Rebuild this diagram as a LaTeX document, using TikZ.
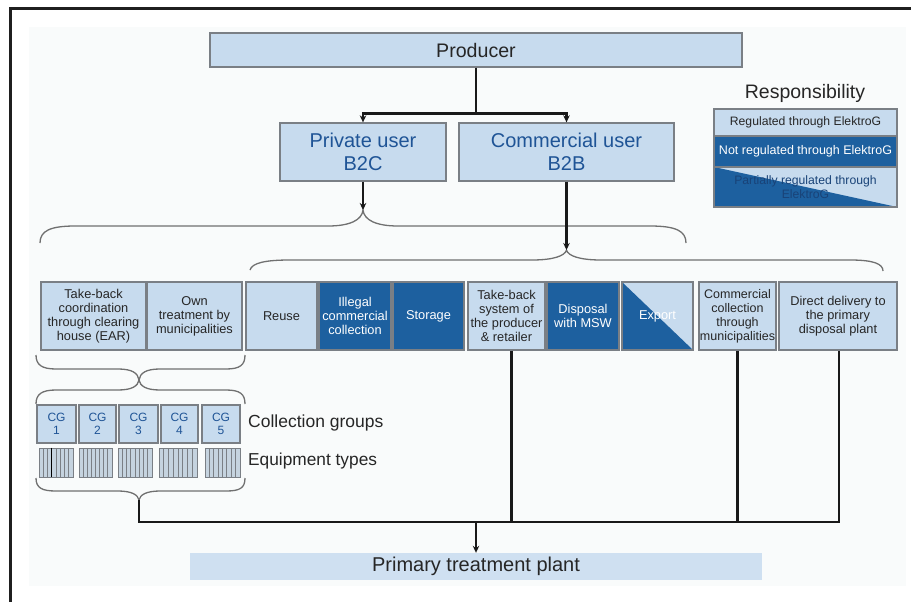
\documentclass[tikz,border=0pt]{standalone}
\usepackage{fontspec}
\setmainfont{Liberation Sans}
\usetikzlibrary{arrows.meta,calc}
\definecolor{lightb}{HTML}{C7DBEE}
\definecolor{darkb}{HTML}{1D609F}
\definecolor{bord}{HTML}{7A7F85}
\definecolor{txtblue}{HTML}{1F5496}
\definecolor{bgp}{HTML}{F9FBFB}
\definecolor{eqfill}{HTML}{C5D3DF}
\definecolor{bracec}{HTML}{707070}
\newcommand\fsz[2]{\fontsize{#1}{#2}\selectfont}
\tikzset{
  box/.style={draw=bord, line width=1.3pt, fill=lightb, inner sep=0pt, align=center, text=black!85},
  darkbox/.style={box, fill=darkb, text=white},
  partbox/.style={box, path picture={\fill[darkb] (path picture bounding box.north west) -- (path picture bounding box.south west) -- (path picture bounding box.south east) -- cycle;}},
  rowbox/.style={minimum height=68, font=\fsz{12.8}{14}},
  cgbox/.style={box, minimum height=38, text=txtblue, font=\fsz{12}{13.5}},
  eqbox/.style={draw=bord, line width=1pt, fill=eqfill, inner sep=0pt, minimum height=29},
  legbox/.style={minimum width=183, font=\fsz{12.2}{14}},
  conn/.style={line width=2.6pt, black!90},
  arr/.style={conn, -{Stealth[length=7pt,width=6.5pt]}},
  brace/.style={draw=bracec, line width=1.3pt},
  lab/.style={anchor=west, inner sep=0pt, text=black!85}
}
\begin{document}
\begin{tikzpicture}[x=1pt,y=-1pt]
\useasboundingbox (0,0) rectangle (911,602);
% frame and background
\fill[bgp] (29,27) rectangle (906,586);
\draw[line width=3pt, black!88] (10,602) -- (10,9) -- (911,9);

% top nodes
\node[box, minimum width=532, minimum height=34, font=\fsz{19.6}{22}] (prod) at (476,50) {Producer};
\node[box, minimum width=166, minimum height=58, text=txtblue, font=\fsz{20}{23}] (b2c) at (363,152) {Private user\\B2C};
\node[box, minimum width=215, minimum height=58, text=txtblue, font=\fsz{20}{23}] (b2b) at (566.5,152) {Commercial user\\B2B};

\draw[arr] (prod.south) -- ++(0,46) -| (b2c.north);
\draw[arr] (prod.south) -- ++(0,46) -| (b2b.north);

% legend
\node[font=\fsz{19.5}{22}, text=black!85] (resp) at (805,93) {Responsibility};
\node[box, legbox, minimum height=27] (leg1) at (805.5,122.5) {Regulated through ElektroG};
\node[darkbox, legbox, minimum height=31, font=\fsz{12.5}{14}] (leg2) at (805.5,151.5) {Not regulated through ElektroG};
\node[partbox, legbox, minimum height=40, text=txtblue!80!black] (leg3) at (805.5,187) {Partially regulated through\\ElektroG};

% braces
\coordinate (tip1) at (363,210);
\coordinate (tip2) at (566.5,250);
\draw[brace] (40,243) .. controls (40,231) and (50,226) .. (75,226) -- (328,226)
  .. controls (350,226) and (362,220) .. (tip1)
  .. controls (364,220) and (376,226) .. (398,226) -- (650,226)
  .. controls (676,226) and (686,231) .. (686,243);
\draw[brace] (250,270) .. controls (252,263) and (265,260) .. (290,260) -- (532,260)
  .. controls (553,260) and (565,256) .. (tip2)
  .. controls (568,256) and (580,260) .. (601,260) -- (850,260)
  .. controls (874,260) and (883,264) .. (883,271);
\draw[arr] (b2c.south) -- (tip1);
\draw[arr] (b2b.south) -- (tip2);

% row of boxes
\node[box, rowbox, minimum width=105] (r1) at (93.5,316) {Take-back\\coordination\\through clearing\\house (EAR)};
\node[box, rowbox, minimum width=95] (r2) at (194.5,316) {Own\\treatment by\\municipalities};
\node[box, rowbox, minimum width=71] (r3) at (281.5,316) {Reuse};
\node[darkbox, rowbox, minimum width=72] (r4) at (355,316) {Illegal\\commercial\\collection};
\node[darkbox, rowbox, minimum width=71] (r5) at (428.5,316) {Storage};
\node[box, rowbox, minimum width=77] (r6) at (506.5,316) {Take-back\\system of\\the producer\\\& retailer};
\node[darkbox, rowbox, minimum width=72] (r7) at (583,316) {Disposal\\with MSW};
\node[partbox, rowbox, minimum width=71, text=white] (r8) at (657.5,316) {Export};
\node[box, rowbox, minimum width=77, font=\fsz{12.5}{14}] (r9) at (737.5,316) {Commercial\\collection\\through\\municipalities};
\node[box, rowbox, minimum width=118] (r10) at (838,316) {Direct delivery to\\the primary\\disposal plant};

% small braces
\coordinate (tip3) at (139,380);
\coordinate (tip5) at (139,500);
\draw[brace] (36,355) .. controls (36,365) and (42,369) .. (56,369) -- (118,369)
  .. controls (132,369) and (138,373) .. (tip3)
  .. controls (140,373) and (146,369) .. (160,369) -- (226,369)
  .. controls (240,369) and (245,365) .. (245,355);
\draw[brace] (36,404) .. controls (36,394) and (42,390) .. (56,390) -- (118,390)
  .. controls (132,390) and (138,386) .. (tip3)
  .. controls (140,386) and (146,390) .. (160,390) -- (226,390)
  .. controls (240,390) and (245,394) .. (245,404);
\draw[brace] (36,478) .. controls (36,488) and (42,491) .. (56,491) -- (118,491)
  .. controls (132,491) and (138,495) .. (tip5)
  .. controls (140,495) and (146,491) .. (160,491) -- (226,491)
  .. controls (240,491) and (245,488) .. (245,478);

% collection groups
\node[cgbox, minimum width=39] (cg1) at (56.5,424) {CG\\1};
\node[cgbox, minimum width=37] (cg2) at (97.5,424) {CG\\2};
\node[cgbox, minimum width=39] (cg3) at (138.5,424) {CG\\3};
\node[cgbox, minimum width=37] (cg4) at (179.5,424) {CG\\4};
\node[cgbox, minimum width=38] (cg5) at (221,424) {CG\\5};
\node[lab, font=\fsz{17.5}{19}] (cglab) at (248,423) {Collection groups};

% equipment types
\foreach \l/\r [count=\i] in {39/73,79/112,118/152,159/197,205/240} {
  \node[eqbox, minimum width={\r-\l}] (eq\i) at ({(\l+\r)/2},462.5) {};
  \foreach \k in {1,...,7} \draw[bord, line width=1pt] ({\l+\k*(\r-\l)/8},448) -- ++(0,29);
}
\draw[black, line width=1.4pt] (eq1.north west) ++(13,0) -- ++(0,29);
\node[lab, font=\fsz{17.3}{19}] (eqlab) at (248,461) {Equipment types};

% bottom collection
\node[fill=lightb!85!white, minimum width=572, minimum height=27, inner sep=0pt, font=\fsz{20}{22}, text=black!85] (plant) at (476,566.5) {Primary treatment plant};
\coordinate (busL) at (139,522);
\coordinate (busR) at (839,522);
\coordinate (r6s) at ($(r6.south)+(5,0)$);
\draw[conn] (tip5) -- (busL) -- (busR) -- (busR |- r10.south);
\draw[conn] (r6s) -- (r6s |- busL);
\draw[conn] (r9.south) -- (r9.south |- busL);
\draw[arr] (plant.north |- busL) -- (plant.north);
\end{tikzpicture}
\end{document}
